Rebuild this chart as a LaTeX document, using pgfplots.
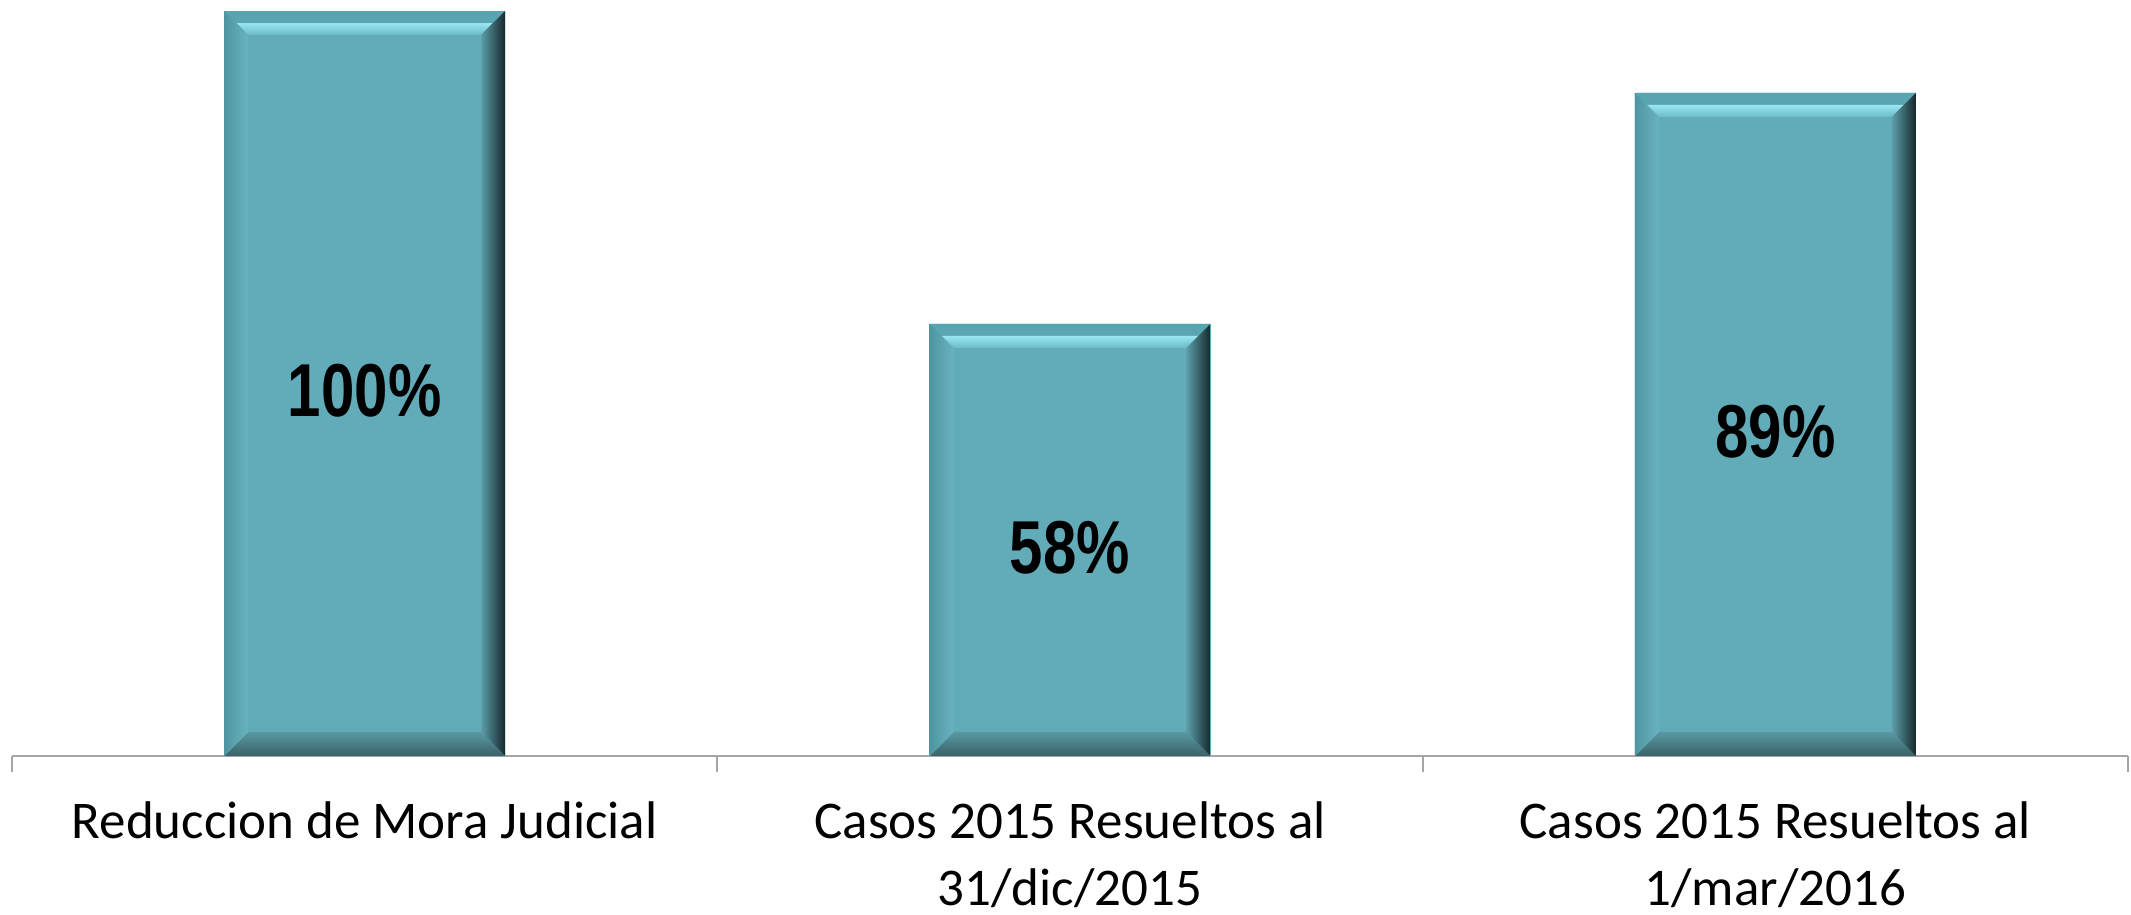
\documentclass[border=0pt]{standalone}
\usepackage{pgfplots}
\pgfplotsset{compat=1.18}
\usepackage{fontspec}
\setmainfont{Carlito}
\newfontfamily\barfont{Liberation Sans}[FakeStretch=0.8]
\definecolor{main}{HTML}{62ABB9}
\definecolor{topA}{HTML}{58A4B1}
\definecolor{topB}{HTML}{98E6F3}
\definecolor{topC}{HTML}{6DBAC7}
\definecolor{leftA}{HTML}{4F95A1}
\definecolor{leftB}{HTML}{69B3C0}
\definecolor{rightA}{HTML}{5C9DA8}
\definecolor{rightB}{HTML}{16282C}
\definecolor{botA}{HTML}{3A6168}
\definecolor{botB}{HTML}{5A98A2}
\definecolor{axgray}{HTML}{A6A6A6}
\def\bv{7.2pt}
\def\bh{3.6pt}
\tikzset{bevelbar/.style={
  ybar, bar width=84.3pt, fill=main, draw=none,
  path picture={
    \shade[path picture={}, top color=topA, bottom color=topB]
      (path picture bounding box.north west) -- (path picture bounding box.north east)
      -- ([xshift=-\bh,yshift=-\bh]path picture bounding box.north east)
      -- ([xshift=\bh,yshift=-\bh]path picture bounding box.north west) -- cycle;
    \shade[path picture={}, top color=topB, bottom color=topC]
      ([xshift=\bh,yshift=-\bh]path picture bounding box.north west)
      -- ([xshift=-\bh,yshift=-\bh]path picture bounding box.north east)
      -- ([xshift=-\bv,yshift=-\bv]path picture bounding box.north east)
      -- ([xshift=\bv,yshift=-\bv]path picture bounding box.north west) -- cycle;
    \shade[path picture={}, top color=botB, bottom color=botA]
      (path picture bounding box.south west) -- (path picture bounding box.south east)
      -- ([xshift=-\bv,yshift=\bv]path picture bounding box.south east)
      -- ([xshift=\bv,yshift=\bv]path picture bounding box.south west) -- cycle;
    \shade[path picture={}, left color=leftA, right color=leftB]
      (path picture bounding box.north west) -- ([xshift=\bv,yshift=-\bv]path picture bounding box.north west)
      -- ([xshift=\bv,yshift=\bv]path picture bounding box.south west)
      -- (path picture bounding box.south west) -- cycle;
    \shade[path picture={}, left color=rightA, right color=rightB]
      (path picture bounding box.north east) -- ([xshift=-\bv,yshift=-\bv]path picture bounding box.north east)
      -- ([xshift=-\bv,yshift=\bv]path picture bounding box.south east)
      -- (path picture bounding box.south east) -- cycle;
  }}}
\begin{document}
\begin{tikzpicture}
\begin{axis}[
  scale only axis, width=634.8pt, height=226.8pt,
  xmin=-0.5, xmax=2.5, ymin=0, ymax=101.48,
  axis x line=bottom, axis y line=none,
  axis line style={-, draw=axgray, line width=0.6pt},
  xtick={-0.5,0.5,1.5,2.5}, xticklabels={},
  tick align=outside, major tick length=4.8pt,
  xtick style={draw=axgray, line width=0.6pt},
  ytick=\empty,
  extra x ticks={0,1,2},
  extra x tick labels={Reduccion de Mora Judicial, {Casos 2015 Resueltos al\\[0.6pt]31/dic/2015}, {Casos 2015 Resueltos al\\[0.6pt]1/mar/2016}},
  extra x tick style={major tick length=0pt, tick style={draw=none}},
  xticklabel style={font=\fontsize{15.9}{19.5}\selectfont, align=center, anchor=north, inner sep=0pt, yshift=-13.6pt},
  clip=false,
]
\addplot[bevelbar] coordinates {(0,100)};
\addplot[bevelbar] coordinates {(1,58)};
\addplot[bevelbar] coordinates {(2,89)};
\addplot[draw=none, mark=none, nodes near coords, point meta=explicit symbolic,
  nodes near coords style={anchor=center, font=\barfont\bfseries\fontsize{22.5}{27}\selectfont, text=black}]
  coordinates {(0,49)[100\%] (1,28)[58\%] (2,43.5)[89\%]};
\end{axis}
\pgfresetboundingbox
\path[use as bounding box] (-3.6pt,-47.7pt) rectangle (635.7pt,226.8pt);
\end{tikzpicture}
\end{document}
